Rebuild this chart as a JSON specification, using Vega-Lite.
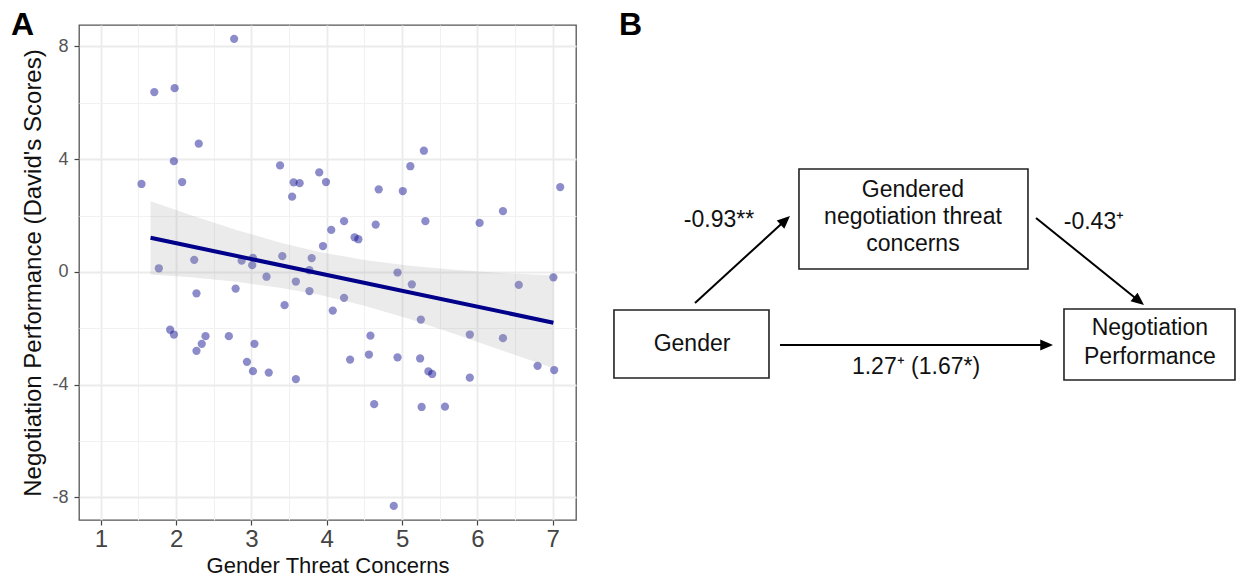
{
  "$schema": "https://vega.github.io/schema/vega-lite/v6.json",
  "padding": {"left": 10, "top": 8, "right": 0, "bottom": 0},
  "config": {"font": "Liberation Sans", "view": {"stroke": "#555555", "strokeWidth": 1.3}},
  "spacing": 30,
  "datasets": {
    "pts": [
      {"gtc": 1.54, "perf": 3.12}, {"gtc": 1.71, "perf": 6.38}, {"gtc": 1.98, "perf": 6.52}, {"gtc": 2.77, "perf": 8.27},
      {"gtc": 1.97, "perf": 3.93}, {"gtc": 2.30, "perf": 4.55}, {"gtc": 2.08, "perf": 3.19}, {"gtc": 3.38, "perf": 3.78},
      {"gtc": 3.56, "perf": 3.18}, {"gtc": 3.64, "perf": 3.15}, {"gtc": 3.54, "perf": 2.67}, {"gtc": 3.90, "perf": 3.53},
      {"gtc": 3.99, "perf": 3.19}, {"gtc": 4.69, "perf": 2.93}, {"gtc": 5.01, "perf": 2.87}, {"gtc": 5.11, "perf": 3.75},
      {"gtc": 5.29, "perf": 4.30}, {"gtc": 7.10, "perf": 3.01}, {"gtc": 6.34, "perf": 2.16}, {"gtc": 6.03, "perf": 1.74},
      {"gtc": 5.31, "perf": 1.80}, {"gtc": 4.65, "perf": 1.68}, {"gtc": 4.23, "perf": 1.80}, {"gtc": 4.06, "perf": 1.49},
      {"gtc": 4.37, "perf": 1.23}, {"gtc": 4.42, "perf": 1.16}, {"gtc": 3.95, "perf": 0.92}, {"gtc": 3.41, "perf": 0.56},
      {"gtc": 3.80, "perf": 0.49}, {"gtc": 3.77, "perf": 0.06}, {"gtc": 3.59, "perf": -0.34}, {"gtc": 3.77, "perf": -0.68},
      {"gtc": 4.23, "perf": -0.92}, {"gtc": 4.94, "perf": -0.02}, {"gtc": 5.13, "perf": -0.44}, {"gtc": 6.55, "perf": -0.46},
      {"gtc": 7.01, "perf": -0.19}, {"gtc": 3.44, "perf": -1.18}, {"gtc": 4.08, "perf": -1.37}, {"gtc": 5.25, "perf": -1.69},
      {"gtc": 4.58, "perf": -2.26}, {"gtc": 4.56, "perf": -2.93}, {"gtc": 4.31, "perf": -3.11}, {"gtc": 4.94, "perf": -3.03},
      {"gtc": 5.24, "perf": -3.07}, {"gtc": 5.35, "perf": -3.53}, {"gtc": 5.40, "perf": -3.62}, {"gtc": 5.90, "perf": -2.22},
      {"gtc": 6.34, "perf": -2.35}, {"gtc": 6.80, "perf": -3.33}, {"gtc": 7.02, "perf": -3.48}, {"gtc": 5.90, "perf": -3.75},
      {"gtc": 3.59, "perf": -3.80}, {"gtc": 4.63, "perf": -4.69}, {"gtc": 5.26, "perf": -4.79}, {"gtc": 5.57, "perf": -4.78},
      {"gtc": 4.89, "perf": -8.30}, {"gtc": 1.77, "perf": 0.13}, {"gtc": 2.24, "perf": 0.43}, {"gtc": 2.87, "perf": 0.40},
      {"gtc": 3.02, "perf": 0.50}, {"gtc": 3.01, "perf": 0.24}, {"gtc": 3.20, "perf": -0.17}, {"gtc": 2.27, "perf": -0.76},
      {"gtc": 2.79, "perf": -0.59}, {"gtc": 1.92, "perf": -2.05}, {"gtc": 1.97, "perf": -2.22}, {"gtc": 2.39, "perf": -2.28},
      {"gtc": 2.34, "perf": -2.55}, {"gtc": 2.27, "perf": -2.80}, {"gtc": 2.70, "perf": -2.28}, {"gtc": 3.04, "perf": -2.55},
      {"gtc": 2.94, "perf": -3.19}, {"gtc": 3.02, "perf": -3.52}, {"gtc": 3.23, "perf": -3.57}
    ],
    "band": [
      {"x": 1.66, "lo": -0.09, "hi": 2.51}, {"x": 2.2, "lo": -0.19, "hi": 2.01}, {"x": 2.8, "lo": -0.35, "hi": 1.49},
      {"x": 3.4, "lo": -0.57, "hi": 1.03}, {"x": 3.9, "lo": -0.81, "hi": 0.71}, {"x": 4.5, "lo": -1.2, "hi": 0.42},
      {"x": 5.1, "lo": -1.67, "hi": 0.22}, {"x": 5.7, "lo": -2.2, "hi": 0.08}, {"x": 6.3, "lo": -2.76, "hi": -0.04},
      {"x": 7.01, "lo": -3.42, "hi": -0.12}
    ],
    "fit": [{"x": 1.66, "y": 1.21}, {"x": 7.01, "y": -1.8}],
    "boxes": [
      {"x1": 1.10, "x2": 25.55, "y1": 57.58, "y2": 71.31},
      {"x1": 30.28, "x2": 66.40, "y1": 29.09, "y2": 49.29},
      {"x1": 72.08, "x2": 99.05, "y1": 57.37, "y2": 71.72}
    ],
    "arrows": [
      {"x1": 13.88, "y1": 56.16, "x2": 28.17, "y2": 39.39},
      {"x1": 67.67, "y1": 38.99, "x2": 83.96, "y2": 55.80},
      {"x1": 27.29, "y1": 64.65, "x2": 69.40, "y2": 64.65}
    ],
    "heads": [
      {"x": 28.86, "y": 38.59, "angle": 47.5},
      {"x": 84.70, "y": 56.57, "angle": 128.8},
      {"x": 70.35, "y": 64.65, "angle": 90}
    ],
    "labels": [
      {"x": 13.41, "y": 64.44, "text": "Gender"},
      {"x": 48.26, "y": 33.43, "text": "Gendered"},
      {"x": 48.26, "y": 38.83, "text": "negotiation threat"},
      {"x": 48.26, "y": 44.20, "text": "concerns"},
      {"x": 85.62, "y": 61.31, "text": "Negotiation"},
      {"x": 85.62, "y": 67.09, "text": "Performance"},
      {"x": 17.67, "y": 39.35, "text": "-0.93**"},
      {"x": 76.81, "y": 39.82, "text": "-0.43⁺"},
      {"x": 48.74, "y": 69.11, "text": "1.27⁺ (1.67*)"}
    ]
  },
  "hconcat": [
    {
      "width": 497,
      "height": 495,
      "title": {"text": "A", "anchor": "start", "frame": "group", "dx": -68, "dy": 31, "offset": -11, "baseline": "alphabetic", "fontSize": 32, "fontWeight": "bold", "color": "black"},
      "resolve": {"axis": {"x": "independent", "y": "independent"}},
      "layer": [
        {
          "data": {"name": "pts"},
          "mark": {"type": "circle", "size": 68, "color": "#00008B", "opacity": 0.45},
          "encoding": {
            "x": {"field": "gtc", "type": "quantitative", "scale": {"domain": [0.71, 7.31], "nice": false, "zero": false},
              "axis": {"orient": "top", "values": [1.5, 2.5, 3.5, 4.5, 5.5, 6.5], "grid": true, "gridColor": "#F1F1F1", "gridWidth": 1, "labels": false, "ticks": false, "domain": false, "title": null}},
            "y": {"field": "perf", "type": "quantitative", "scale": {"domain": [-8.8, 8.76], "nice": false, "zero": false},
              "axis": {"orient": "right", "values": [-6, -2, 2, 6], "grid": true, "gridColor": "#F1F1F1", "gridWidth": 1, "labels": false, "ticks": false, "domain": false, "title": null}}
          }
        },
        {
          "data": {"name": "band"},
          "mark": {"type": "area", "color": "#999999", "opacity": 0.2},
          "encoding": {
            "x": {"field": "x", "type": "quantitative",
              "axis": {"orient": "bottom", "values": [1, 2, 3, 4, 5, 6, 7], "title": "Gender Threat Concerns", "titleFontSize": 22, "titleFontWeight": "normal", "titleColor": "#111111", "titlePadding": 4, "labelFontSize": 24, "labelColor": "#444444", "labelPadding": 2, "labelOverlap": false, "tickSize": 5, "tickColor": "#444444", "tickWidth": 1.2, "domain": false, "grid": true, "gridColor": "#EBEBEB", "gridWidth": 1.8}},
            "y": {"field": "lo", "type": "quantitative",
              "axis": {"orient": "left", "values": [-8, -4, 0, 4, 8], "labelExpr": "'' + datum.value", "title": "Negotiation Performance (David's Scores)", "titleFontSize": 24, "titleFontWeight": "normal", "titleColor": "#111111", "titlePadding": 6, "labelFontSize": 18, "labelColor": "#555555", "labelPadding": 6, "labelOverlap": false, "tickSize": 5, "tickColor": "#444444", "tickWidth": 1.2, "domain": false, "grid": true, "gridColor": "#EBEBEB", "gridWidth": 1.8}},
            "y2": {"field": "hi"}
          }
        },
        {
          "data": {"name": "fit"},
          "mark": {"type": "line", "color": "#00008B", "strokeWidth": 4},
          "encoding": {
            "x": {"field": "x", "type": "quantitative", "axis": null},
            "y": {"field": "y", "type": "quantitative", "axis": null}
          }
        }
      ]
    },
    {
      "width": 634,
      "height": 495,
      "title": {"text": "B", "anchor": "start", "frame": "group", "dx": 12, "dy": 31, "offset": -11, "baseline": "alphabetic", "fontSize": 32, "fontWeight": "bold", "color": "black"},
      "view": {"stroke": null},
      "layer": [
        {
          "data": {"name": "boxes"},
          "mark": {"type": "rect", "fill": "white", "stroke": "#222222", "strokeWidth": 1.6},
          "encoding": {
            "x": {"field": "x1", "type": "quantitative", "scale": {"domain": [0, 100], "nice": false, "zero": false}, "axis": null},
            "x2": {"field": "x2"},
            "y": {"field": "y1", "type": "quantitative", "scale": {"domain": [0, 100], "reverse": true, "nice": false, "zero": false}, "axis": null},
            "y2": {"field": "y2"}
          }
        },
        {
          "data": {"name": "arrows"},
          "mark": {"type": "rule", "color": "black", "strokeWidth": 2},
          "encoding": {
            "x": {"field": "x1", "type": "quantitative", "axis": null},
            "x2": {"field": "x2"},
            "y": {"field": "y1", "type": "quantitative", "axis": null},
            "y2": {"field": "y2"}
          }
        },
        {
          "data": {"name": "heads"},
          "mark": {"type": "point", "shape": "M0,0L-0.7,1.6L0.7,1.6Z", "filled": true, "color": "black", "opacity": 1, "size": 256},
          "encoding": {
            "x": {"field": "x", "type": "quantitative", "axis": null},
            "y": {"field": "y", "type": "quantitative", "axis": null},
            "angle": {"field": "angle", "type": "quantitative", "scale": null}
          }
        },
        {
          "data": {"name": "labels"},
          "mark": {"type": "text", "fontSize": 23, "align": "center", "baseline": "middle", "color": "#111111"},
          "encoding": {
            "x": {"field": "x", "type": "quantitative", "axis": null},
            "y": {"field": "y", "type": "quantitative", "axis": null},
            "text": {"field": "text"}
          }
        }
      ]
    }
  ]
}
